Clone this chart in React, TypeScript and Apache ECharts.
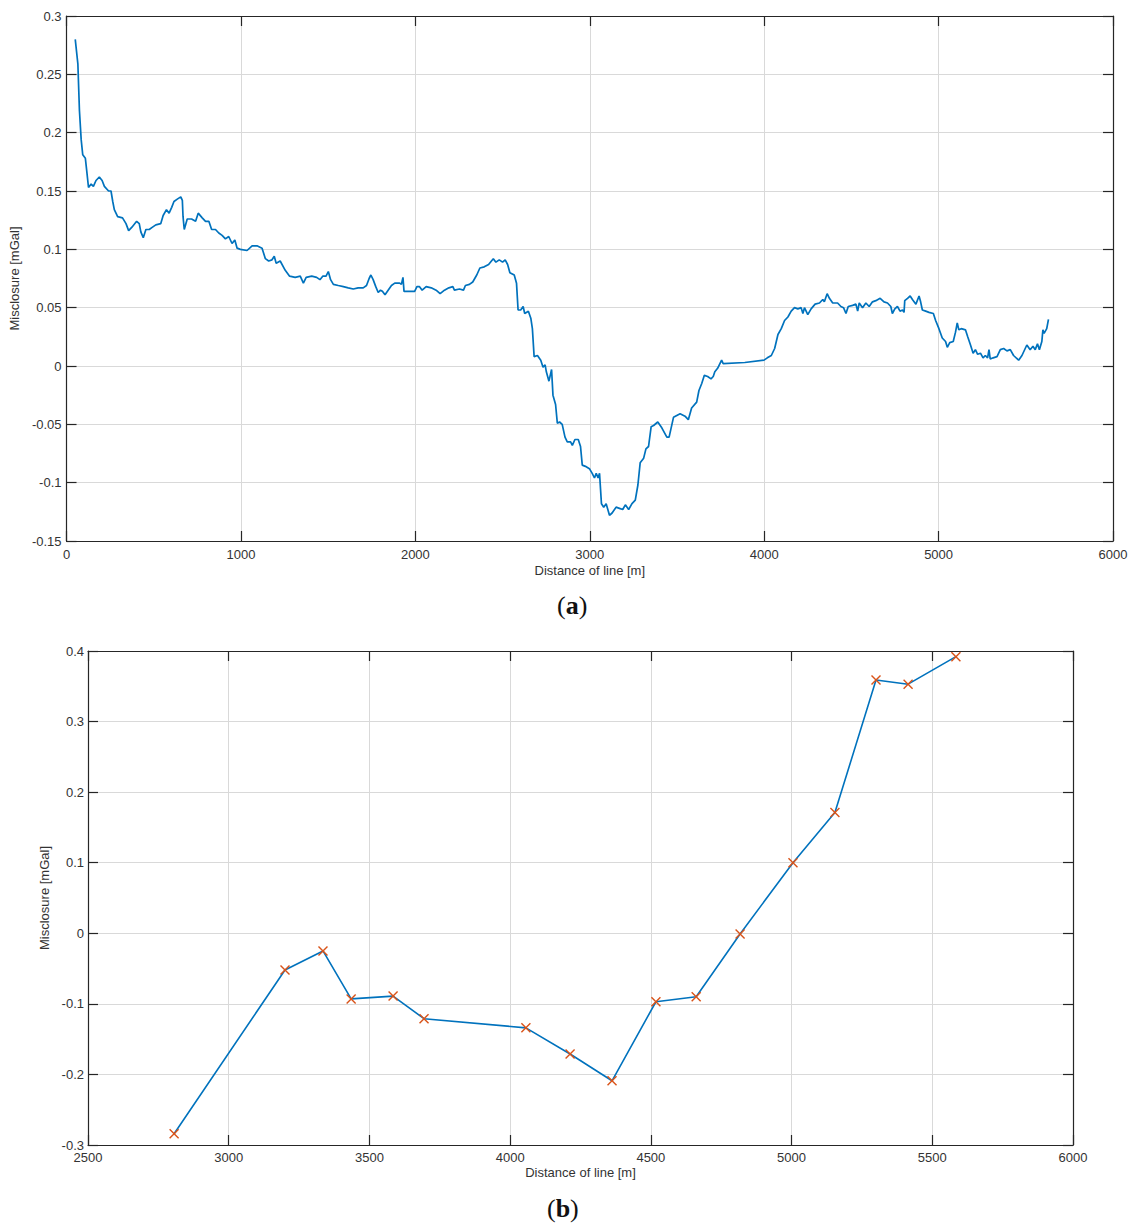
import React, { useEffect, useRef } from "react";
import * as echarts from "echarts";

// Panel (a): misclosure along the whole line
const distA: number[] = [
  50, 65, 74, 84, 93, 108, 116, 126, 141, 154, 169, 188, 204, 217, 241, 255, 265, 274, 293, 321,
  341, 356, 375, 402, 417, 426, 440, 455, 474, 493, 512, 540, 554, 573, 588, 603, 616, 635, 655, 664,
  668, 675, 692, 717, 740, 755, 778, 797, 816, 832, 854, 873, 892, 911, 930, 949, 965, 978, 997, 1035,
  1064, 1092, 1121, 1140, 1159, 1178, 1191, 1202, 1225, 1254, 1279, 1311, 1340, 1358, 1374, 1406, 1434, 1453, 1469, 1488,
  1501, 1514, 1530, 1558, 1587, 1615, 1644, 1672, 1701, 1720, 1735, 1745, 1758, 1773, 1787, 1800, 1811, 1826, 1844, 1863,
  1882, 1910, 1920, 1929, 1935, 1958, 1996, 2009, 2024, 2039, 2062, 2091, 2119, 2142, 2167, 2192, 2215, 2224, 2253, 2276,
  2287, 2310, 2329, 2352, 2370, 2395, 2420, 2447, 2462, 2481, 2500, 2515, 2529, 2542, 2567, 2580, 2589, 2604, 2618, 2627,
  2648, 2662, 2671, 2681, 2700, 2719, 2732, 2744, 2751, 2766, 2781, 2789, 2804, 2814, 2827, 2842, 2858, 2871, 2890, 2900,
  2915, 2934, 2947, 2957, 2975, 2998, 3014, 3027, 3037, 3048, 3056, 3067, 3080, 3094, 3113, 3128, 3151, 3170, 3189, 3204,
  3223, 3242, 3261, 3276, 3289, 3309, 3322, 3337, 3352, 3366, 3390, 3413, 3442, 3455, 3480, 3518, 3546, 3565, 3584, 3613,
  3626, 3642, 3657, 3676, 3695, 3708, 3717, 3733, 3756, 3765, 3889, 3999, 4018, 4041, 4060, 4079, 4098, 4117, 4136, 4155,
  4174, 4193, 4212, 4222, 4231, 4250, 4269, 4292, 4317, 4336, 4345, 4361, 4374, 4393, 4421, 4440, 4455, 4469, 4482, 4507,
  4526, 4536, 4545, 4564, 4583, 4602, 4621, 4640, 4665, 4687, 4707, 4726, 4735, 4749, 4764, 4779, 4793, 4802, 4806, 4822,
  4837, 4850, 4870, 4888, 4897, 4907, 4926, 4945, 4970, 4983, 5002, 5021, 5040, 5050, 5064, 5084, 5097, 5107, 5116, 5130,
  5154, 5167, 5183, 5198, 5211, 5224, 5240, 5255, 5268, 5281, 5289, 5296, 5313, 5335, 5354, 5373, 5392, 5411, 5430, 5459,
  5478, 5506, 5525, 5541, 5554, 5567, 5578, 5592, 5598, 5605, 5620, 5630,
];

const miscA: number[] = [
  0.28, 0.259, 0.219, 0.194, 0.181, 0.178, 0.167, 0.153, 0.156, 0.154, 0.159, 0.162, 0.159, 0.154, 0.15, 0.15, 0.141, 0.134, 0.128, 0.127,
  0.122, 0.116, 0.119, 0.124, 0.122, 0.115, 0.11, 0.117, 0.117, 0.119, 0.121, 0.122, 0.129, 0.134, 0.131, 0.136, 0.141, 0.143, 0.145, 0.142,
  0.128, 0.117, 0.126, 0.126, 0.124, 0.131, 0.127, 0.124, 0.124, 0.117, 0.117, 0.114, 0.112, 0.109, 0.111, 0.105, 0.108, 0.101, 0.1, 0.099,
  0.103, 0.103, 0.101, 0.092, 0.09, 0.091, 0.094, 0.088, 0.09, 0.082, 0.077, 0.076, 0.077, 0.071, 0.076, 0.077, 0.076, 0.074, 0.077, 0.077,
  0.081, 0.074, 0.07, 0.069, 0.068, 0.067, 0.066, 0.067, 0.067, 0.069, 0.075, 0.078, 0.074, 0.068, 0.063, 0.065, 0.064, 0.061, 0.065, 0.069,
  0.071, 0.071, 0.07, 0.076, 0.064, 0.064, 0.064, 0.068, 0.068, 0.065, 0.068, 0.067, 0.065, 0.062, 0.065, 0.067, 0.068, 0.065, 0.066, 0.065,
  0.069, 0.07, 0.072, 0.078, 0.084, 0.085, 0.087, 0.092, 0.089, 0.091, 0.089, 0.091, 0.087, 0.08, 0.078, 0.071, 0.048, 0.048, 0.051, 0.045,
  0.047, 0.041, 0.032, 0.008, 0.009, 0.005, -0.001, 0.001, -0.005, -0.013, -0.003, -0.025, -0.033, -0.049, -0.048, -0.05, -0.061, -0.065, -0.065, -0.068,
  -0.063, -0.063, -0.069, -0.085, -0.086, -0.088, -0.092, -0.096, -0.092, -0.096, -0.092, -0.118, -0.121, -0.118, -0.128, -0.126, -0.121, -0.122, -0.123, -0.119,
  -0.123, -0.118, -0.115, -0.102, -0.083, -0.079, -0.071, -0.069, -0.052, -0.051, -0.048, -0.053, -0.061, -0.061, -0.044, -0.041, -0.043, -0.046, -0.036, -0.031,
  -0.021, -0.015, -0.008, -0.009, -0.011, -0.009, -0.005, -0.002, 0.005, 0.002, 0.003, 0.005, 0.007, 0.009, 0.015, 0.027, 0.032, 0.039, 0.042, 0.047,
  0.05, 0.049, 0.05, 0.045, 0.05, 0.044, 0.049, 0.053, 0.054, 0.057, 0.055, 0.062, 0.058, 0.054, 0.054, 0.051, 0.05, 0.045, 0.051, 0.052,
  0.053, 0.047, 0.054, 0.05, 0.054, 0.051, 0.055, 0.056, 0.058, 0.055, 0.054, 0.051, 0.045, 0.049, 0.051, 0.047, 0.048, 0.046, 0.056, 0.058,
  0.06, 0.057, 0.053, 0.06, 0.055, 0.048, 0.047, 0.046, 0.045, 0.039, 0.032, 0.024, 0.021, 0.016, 0.02, 0.021, 0.029, 0.037, 0.031, 0.032,
  0.031, 0.025, 0.018, 0.011, 0.014, 0.01, 0.011, 0.007, 0.009, 0.007, 0.014, 0.006, 0.007, 0.008, 0.014, 0.015, 0.013, 0.014, 0.009, 0.005,
  0.009, 0.018, 0.014, 0.017, 0.014, 0.019, 0.014, 0.021, 0.031, 0.028, 0.032, 0.04,
];

// Panel (b): misclosure at the crossing points
const distB: number[] = [2806, 3200, 3335, 3435, 3584, 3694, 4056, 4213, 4362, 4518, 4661, 4817, 5005, 5154, 5300, 5414, 5584];
const miscB: number[] = [-0.284, -0.052, -0.025, -0.093, -0.089, -0.121, -0.134, -0.171, -0.209, -0.097, -0.09, -0.001, 0.1, 0.171, 0.359, 0.353, 0.392];

const AXIS_TITLE_X = "Distance of line [m]";
const AXIS_TITLE_Y = "Misclosure [mGal]";

const FONT = "'Liberation Sans', Arial, Helvetica, sans-serif";
const INK = "#262626";
const LINE_BLUE = "#0072BD";
const MARK_ORANGE = "#D95319";
const GRID_GRAY = "#d9d9d9";

const CROSS = "path://M0,1 L1,0 L5,4 L9,0 L10,1 L6,5 L10,9 L9,10 L5,6 L1,10 L0,9 L4,5 Z";

// plain tick text, no thousands separators
const tickText = (v: number) => String(parseFloat(Number(v).toFixed(6)));

function boxAxis(kind: "x" | "y", gridIndex: number, position: string, min: number, max: number, interval: number, main: boolean, labelMargin: number, nameGap: number) {
  return {
    type: "value",
    gridIndex,
    position,
    min,
    max,
    interval,
    name: main ? (kind === "x" ? AXIS_TITLE_X : AXIS_TITLE_Y) : "",
    nameLocation: "middle",
    nameGap,
    nameTextStyle: { fontFamily: FONT, fontSize: 13, color: "#333" },
    axisLine: { show: true, onZero: false, lineStyle: { color: INK, width: 1.2 } },
    axisTick: { show: true, inside: true, length: 10, lineStyle: { color: INK, width: 1.2 } },
    axisLabel: {
      show: main,
      margin: labelMargin,
      fontFamily: FONT,
      fontSize: 13,
      color: "#333",
      showMinLabel: true,
      showMaxLabel: true,
      formatter: tickText,
    },
    splitLine: { show: main, lineStyle: { color: GRID_GRAY, width: 1 } },
  };
}

const captionRich = {
  p: { fontFamily: "'Liberation Serif', 'DejaVu Serif', serif", fontSize: 26, fill: "#111" },
  b: { fontFamily: "'Liberation Serif', 'DejaVu Serif', serif", fontSize: 26, fontWeight: "bold", fill: "#111" },
};

export default function App() {
  const ref = useRef<HTMLDivElement>(null);

  useEffect(() => {
    if (!ref.current) return;
    const chart = echarts.init(ref.current, null, { renderer: "svg" });

    const lineA = distA.map((d, i) => [d, miscA[i]]);
    const lineB = distB.map((d, i) => [d, miscB[i]]);

    chart.setOption({
      animation: false,
      backgroundColor: "#ffffff",
      grid: [
        { left: 62, top: 16, width: 1051, height: 525 },
        { left: 88, top: 651, width: 985, height: 494 },
      ],
      xAxis: [
        boxAxis("x", 0, "bottom", 0, 6000, 1000, true, 7, 23),
        boxAxis("x", 0, "top", 0, 6000, 1000, false, 7, 23),
        boxAxis("x", 1, "bottom", 2500, 6000, 500, true, 6, 21),
        boxAxis("x", 1, "top", 2500, 6000, 500, false, 6, 21),
      ],
      yAxis: [
        boxAxis("y", 0, "left", -0.15, 0.3, 0.05, true, 5, 38),
        boxAxis("y", 0, "right", -0.15, 0.3, 0.05, false, 5, 38),
        boxAxis("y", 1, "left", -0.3, 0.4, 0.1, true, 4, 28),
        boxAxis("y", 1, "right", -0.3, 0.4, 0.1, false, 4, 28),
      ],
      series: [
        {
          type: "line",
          xAxisIndex: 0,
          yAxisIndex: 0,
          data: lineA,
          showSymbol: false,
          symbol: "none",
          lineStyle: { color: LINE_BLUE, width: 1.7 },
        },
        {
          type: "line",
          xAxisIndex: 2,
          yAxisIndex: 2,
          data: lineB,
          symbol: CROSS,
          symbolSize: 10,
          showSymbol: true,
          itemStyle: { color: MARK_ORANGE },
          lineStyle: { color: LINE_BLUE, width: 1.6 },
          z: 3,
        },
      ],
      graphic: [
        {
          type: "text",
          left: 573 - 16,
          top: 592,
          style: { text: "{p|(}{b|a}{p|)}", rich: captionRich },
        },
        {
          type: "text",
          left: 563 - 16,
          top: 1195,
          style: { text: "{p|(}{b|b}{p|)}", rich: captionRich },
        },
      ],
    });

    return () => chart.dispose();
  }, []);

  return (
    <div
      ref={ref}
      style={{ position: "absolute", left: 0, top: 0, width: 1134, height: 1225, background: "#fff" }}
    />
  );
}
